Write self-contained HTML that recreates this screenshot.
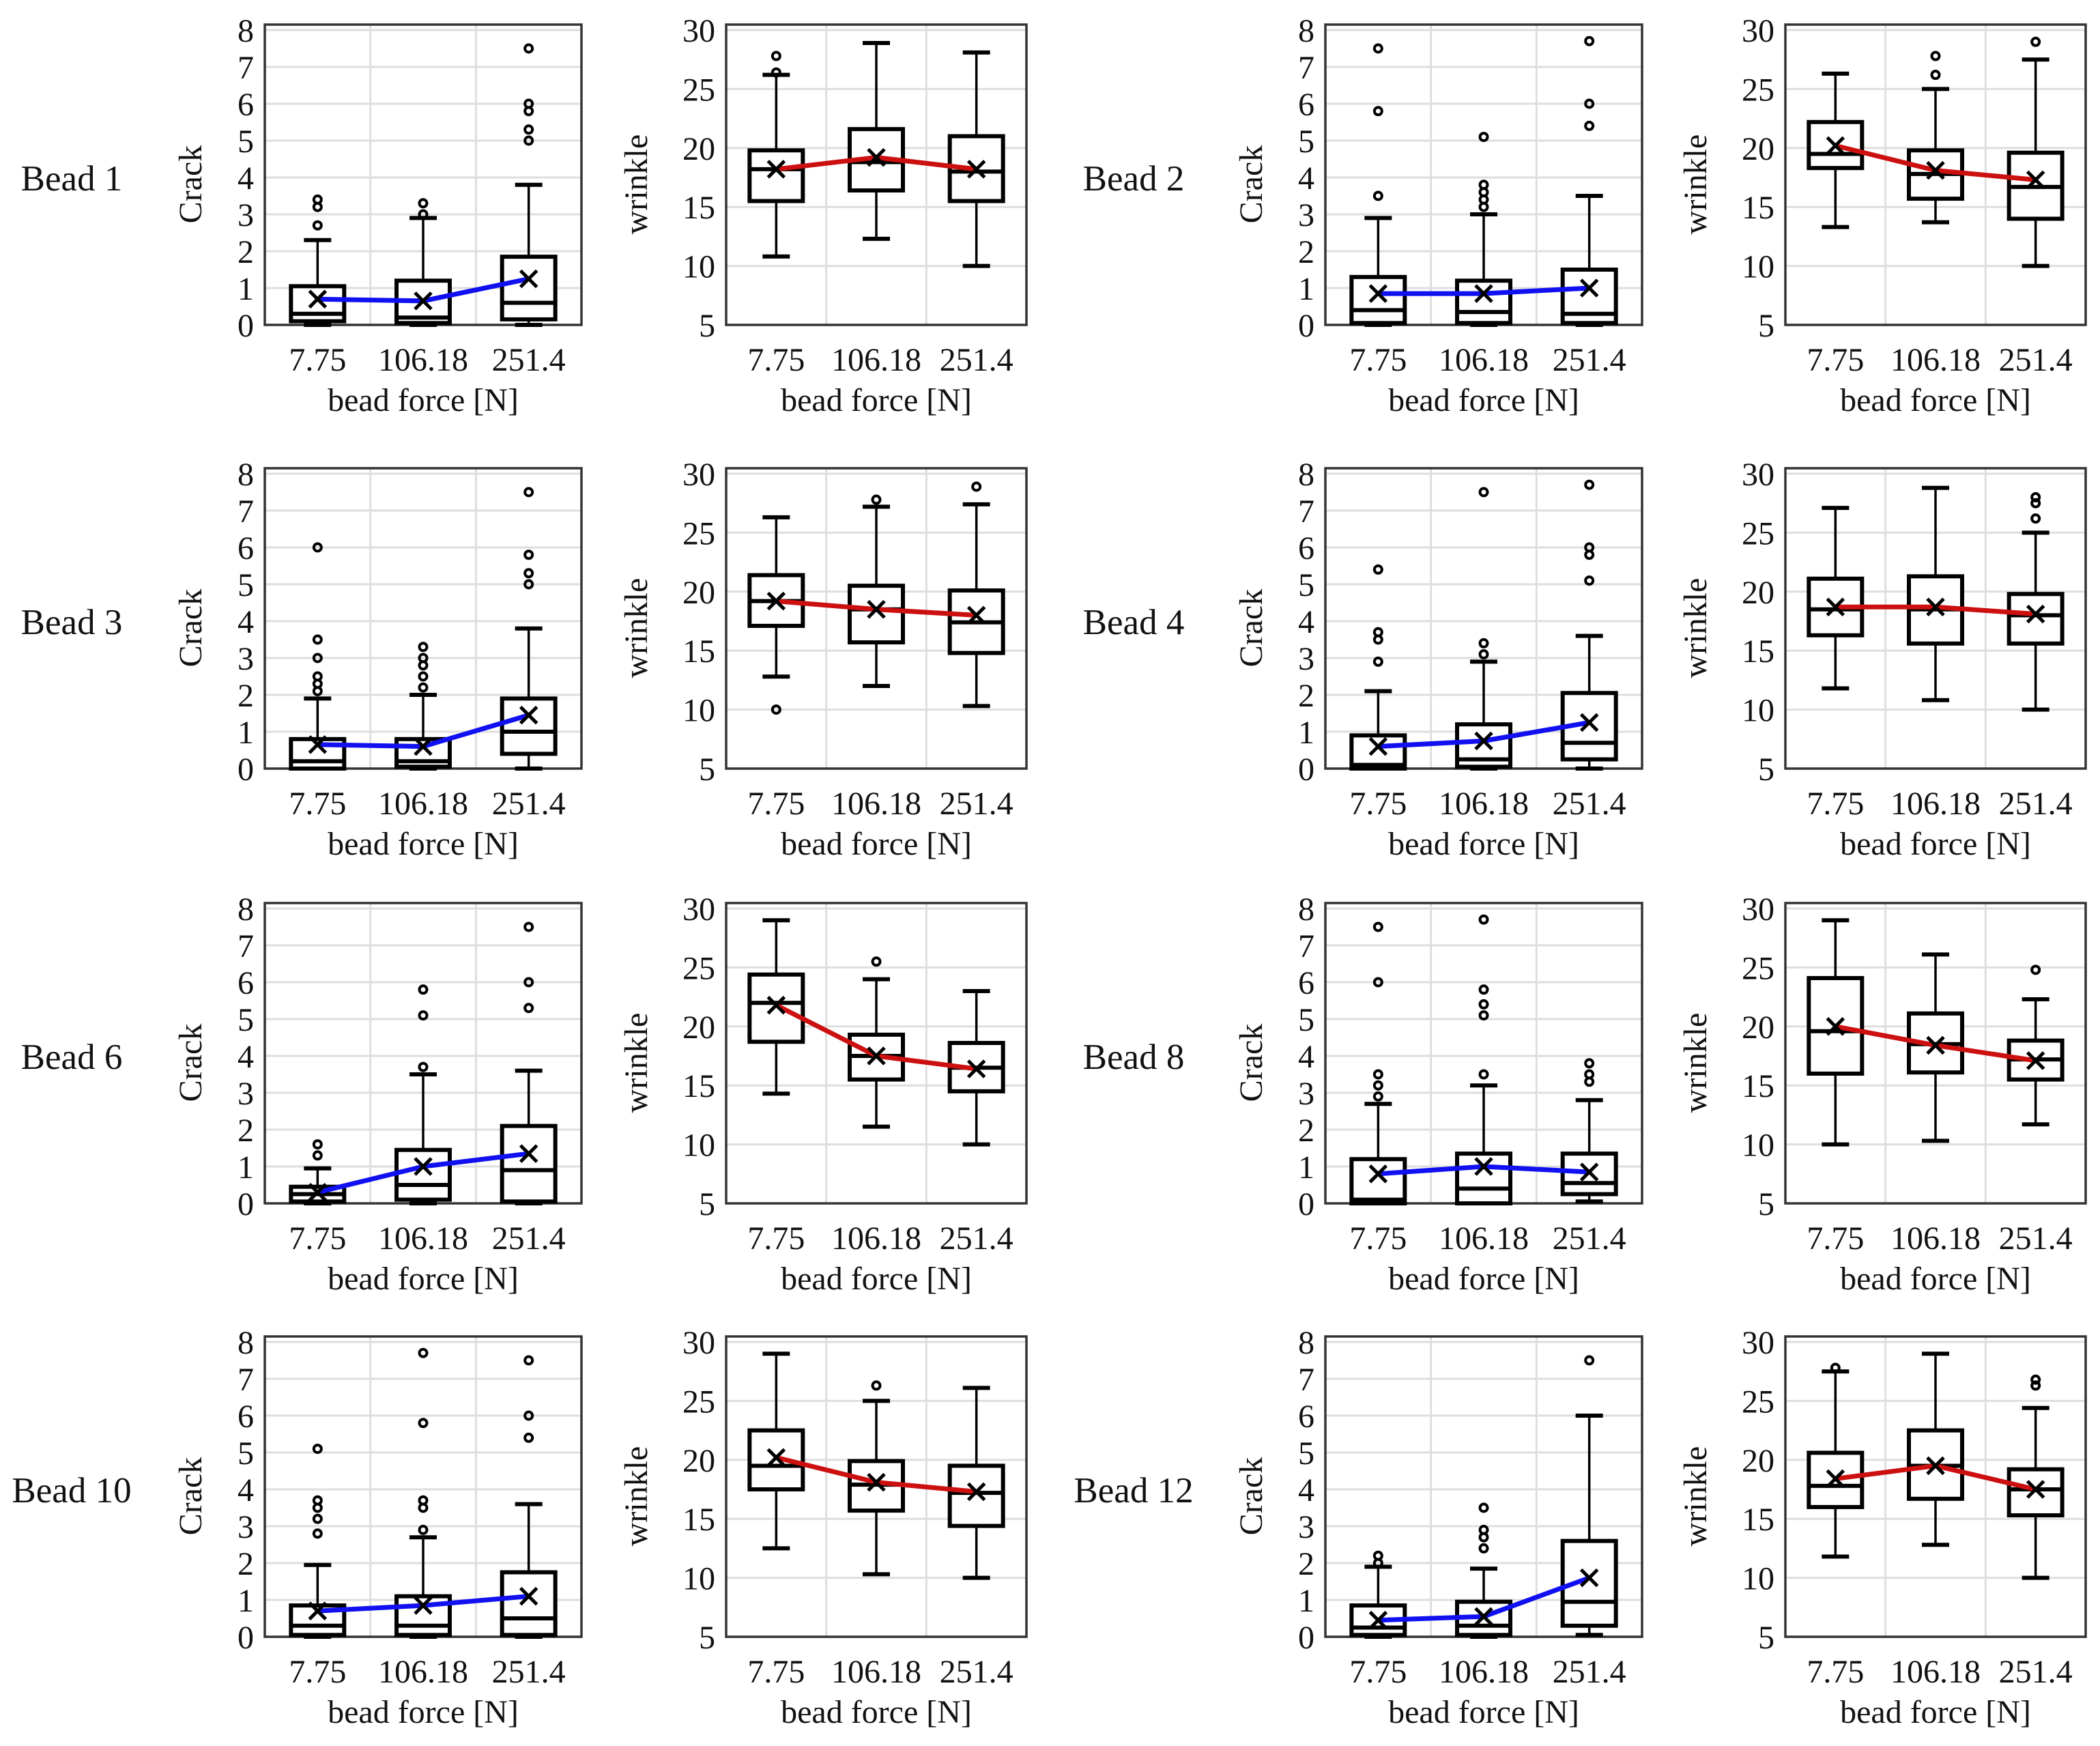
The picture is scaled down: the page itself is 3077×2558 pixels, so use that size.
<!DOCTYPE html>
<html><head><meta charset="utf-8">
<style>
html,body{margin:0;padding:0;background:#fff;}
svg{display:block;font-family:"Liberation Serif",serif;}
</style></head>
<body>
<svg id="chart" width="3077" height="2558" viewBox="0 0 3077 2558" xmlns="http://www.w3.org/2000/svg"></svg>
<script>
const categories = ["7.75", "106.18", "251.4"];
const beadNames = ["Bead 1","Bead 2","Bead 3","Bead 4","Bead 6","Bead 8","Bead 10","Bead 12"];
const crackTicks = [0,1,2,3,4,5,6,7,8];
const wrinkleTicks = [5,10,15,20,25,30];
// each stat: [low, q1, median, q3, high, mean]
const crackStats = [
 [[0,0.1,0.3,1.05,2.3,0.7],[0,0.05,0.2,1.2,2.9,0.65],[0,0.15,0.6,1.85,3.8,1.25]],
 [[0,0.05,0.4,1.3,2.9,0.85],[0,0.05,0.35,1.2,3.0,0.85],[0,0.05,0.3,1.5,3.5,1.0]],
 [[0,0,0.2,0.8,1.9,0.65],[0,0.05,0.2,0.8,2.0,0.6],[0,0.4,1.0,1.9,3.8,1.45]],
 [[0,0,0.1,0.9,2.1,0.6],[0,0.05,0.25,1.2,2.9,0.75],[0,0.25,0.7,2.05,3.6,1.25]],
 [[0,0.05,0.25,0.45,0.95,0.3],[0,0.1,0.5,1.45,3.5,1.0],[0,0.05,0.9,2.1,3.6,1.35]],
 [[0,0,0.1,1.2,2.7,0.8],[0,0,0.4,1.35,3.2,1.0],[0.05,0.25,0.55,1.35,2.8,0.85]],
 [[0,0.05,0.3,0.85,1.95,0.7],[0,0.05,0.3,1.1,2.7,0.85],[0,0.05,0.5,1.75,3.6,1.1]],
 [[0,0.05,0.25,0.85,1.9,0.45],[0,0.05,0.3,0.95,1.85,0.55],[0.05,0.3,0.95,2.6,6.0,1.6]]
];
const crackOutliers = [
 [[2.7,3.2,3.4],[3.0,3.3],[5.0,5.3,5.8,6.0,7.5]],
 [[3.5,5.8,7.5],[3.2,3.4,3.6,3.8,5.1],[5.4,6.0,7.7]],
 [[2.1,2.3,2.5,3.0,3.5,6.0],[2.2,2.5,2.8,3.0,3.3],[5.0,5.3,5.8,7.5]],
 [[2.9,3.5,3.7,5.4],[3.1,3.4,7.5],[5.1,5.8,6.0,7.7]],
 [[1.3,1.6],[3.7,5.1,5.8],[5.3,6.0,7.5]],
 [[2.9,3.2,3.5,6.0,7.5],[3.5,5.1,5.4,5.8,7.7],[3.3,3.5,3.8]],
 [[2.8,3.2,3.5,3.7,5.1],[2.9,3.5,3.7,5.8,7.7],[5.4,6.0,7.5]],
 [[2.0,2.2],[2.4,2.7,2.9,3.5],[7.5]]
];
const wrinkleStats = [
 [[10.8,15.5,18.2,19.8,26.2,18.2],[12.3,16.4,18.8,21.6,28.9,19.2],[10,15.5,18,21,28.1,18.2]],
 [[13.3,18.3,19.5,22.2,26.3,20.2],[13.7,15.7,17.8,19.8,25,18.1],[10,14,16.7,19.6,27.5,17.3]],
 [[12.8,17.1,19.2,21.4,26.3,19.2],[12,15.7,18.5,20.5,27.2,18.5],[10.3,14.8,17.4,20.1,27.4,18]],
 [[11.8,16.3,18.5,21.1,27.1,18.7],[10.8,15.6,18.5,21.3,28.8,18.7],[10,15.6,18,19.8,25,18.1]],
 [[14.3,18.7,22,24.4,29,21.8],[11.5,15.5,17.5,19.3,24,17.5],[10,14.5,16.5,18.6,23,16.4]],
 [[10,16,19.6,24.1,29,20],[10.3,16.1,18.5,21.1,26.1,18.4],[11.7,15.5,17.2,18.8,22.3,17.1]],
 [[12.5,17.5,19.5,22.5,29,20.2],[10.3,15.7,17.9,19.9,25,18.1],[10,14.4,17.2,19.5,26.1,17.3]],
 [[11.8,16,17.8,20.6,27.5,18.4],[12.8,16.7,19.5,22.5,29,19.5],[10,15.3,17.5,19.2,24.4,17.5]]
];
const wrinkleOutliers = [
 [[26.4,27.8],[],[]],
 [[],[26.2,27.8],[29]],
 [[10],[27.8],[28.9]],
 [[],[],[26.2,27.5,28]],
 [[],[25.5],[]],
 [[],[],[24.8]],
 [[],[26.3],[]],
 [[27.8],[],[26.3,26.8]]
];

const NS = "http://www.w3.org/2000/svg";
const svg = document.getElementById('chart');
const rowTops = [36, 686, 1323, 1958];
const PH = 440;
const crackX = [388, 1942], crackW = 464;
const wrX = [1064, 2616], wrW = 440;
const beadLabelX = [105, 1661];

function mk(tag, attrs, parent, text){
  const e = document.createElementNS(NS, tag);
  for (const k in attrs) e.setAttribute(k, attrs[k]);
  if (text !== undefined) e.textContent = text;
  (parent||svg).appendChild(e);
  return e;
}

function drawPanel(g, x0, y0, w, ticks, vmin, vmax, stats, outl, lineColor, ylabel, ylabelX){
  const yS = v => y0 + PH - (v - vmin) / (vmax - vmin) * (PH - 8);
  const xS = i => x0 + w * (2*i + 1) / 6;
  for (const t of ticks){
    if (t === vmin) continue;
    const gl = mk('line',{x1:x0,x2:x0+w,y1:yS(t),y2:yS(t),stroke:'#dedede','stroke-width':3},g);
    
    
  }
  for (let k=1;k<3;k++){
    const gx = x0 + w*k/3;
    const vl = mk('line',{x1:gx,x2:gx,y1:y0,y2:y0+PH,stroke:'#dedede','stroke-width':3},g);
    
    
  }
  const fr = mk('rect',{x:x0,y:y0,width:w,height:PH,fill:'none',stroke:'#333','stroke-width':3.5},g);
  
  
  for (const t of ticks){
    const tl = mk('text',{x:x0-16,y:yS(t)+17,'text-anchor':'end','font-size':48,fill:'#111'},g,String(t));
    
    
  }
  categories.forEach((c,i)=>{
    const xl = mk('text',{x:xS(i),y:y0+507,'text-anchor':'middle','font-size':48,fill:'#111'},g,c);
    
    
  });
  const xt = mk('text',{x:x0+w/2,y:y0+566,'text-anchor':'middle','font-size':48,fill:'#111'},g,'bead force [N]');
  
  
  const yt = mk('text',{x:ylabelX,y:y0+234,'text-anchor':'middle','font-size':48,fill:'#111',transform:`rotate(-90 ${ylabelX} ${y0+234})`},g,ylabel);
  
  
  const bw = 78, cw = 40;
  stats.forEach((s,i)=>{
    const cx = xS(i);
    const bg = mk('g',{},g);
    
    
    mk('line',{x1:cx,x2:cx,y1:yS(s[0]),y2:yS(s[1]),stroke:'#000','stroke-width':3.5},bg);
    mk('line',{x1:cx,x2:cx,y1:yS(s[3]),y2:yS(s[4]),stroke:'#000','stroke-width':3.5},bg);
    mk('line',{x1:cx-cw/2,x2:cx+cw/2,y1:yS(s[0]),y2:yS(s[0]),stroke:'#000','stroke-width':6},bg);
    mk('line',{x1:cx-cw/2,x2:cx+cw/2,y1:yS(s[4]),y2:yS(s[4]),stroke:'#000','stroke-width':6},bg);
    mk('rect',{x:cx-bw/2,y:yS(s[3]),width:bw,height:Math.max(1,yS(s[1])-yS(s[3])),fill:'#fff',stroke:'#000','stroke-width':6},bg);
    mk('line',{x1:cx-bw/2,x2:cx+bw/2,y1:yS(s[2]),y2:yS(s[2]),stroke:'#000','stroke-width':6},bg);
    for (const o of outl[i]){
      const oc = mk('circle',{cx:cx,cy:yS(o),r:5.5,fill:'none',stroke:'#000','stroke-width':4},bg);
      
      
    }
  });
  const pts = stats.map((s,i)=>xS(i)+','+yS(s[5])).join(' ');
  const ml = mk('polyline',{points:pts,fill:'none',stroke:lineColor,'stroke-width':7,'stroke-linejoin':'round'},g);
  
  
  stats.forEach((s,i)=>{
    const cx = xS(i), cy = yS(s[5]), d = 12;
    const mm = mk('path',{d:`M${cx-d},${cy-d}L${cx+d},${cy+d}M${cx-d},${cy+d}L${cx+d},${cy-d}`,stroke:'#000','stroke-width':5,fill:'none'},g);
    
    
  });
}

beadNames.forEach((name, b)=>{
  const row = Math.floor(b/2), col = b%2;
  const y0 = rowTops[row];
  const g = mk('g',{});
  
  
  const bl = mk('text',{x:beadLabelX[col],y:y0+243,'text-anchor':'middle','font-size':53,fill:'#111'},g,name);
  
  
  const gc = mk('g',{},g);
  
  
  drawPanel(gc, crackX[col], y0, crackW, crackTicks, 0, 8, crackStats[b], crackOutliers[b], '#1010f0', 'Crack', crackX[col]-93);
  const gw = mk('g',{},g);
  
  
  drawPanel(gw, wrX[col], y0, wrW, wrinkleTicks, 5, 30, wrinkleStats[b], wrinkleOutliers[b], '#cc1010', 'wrinkle', wrX[col]-116);
});
</script>
</body></html>
